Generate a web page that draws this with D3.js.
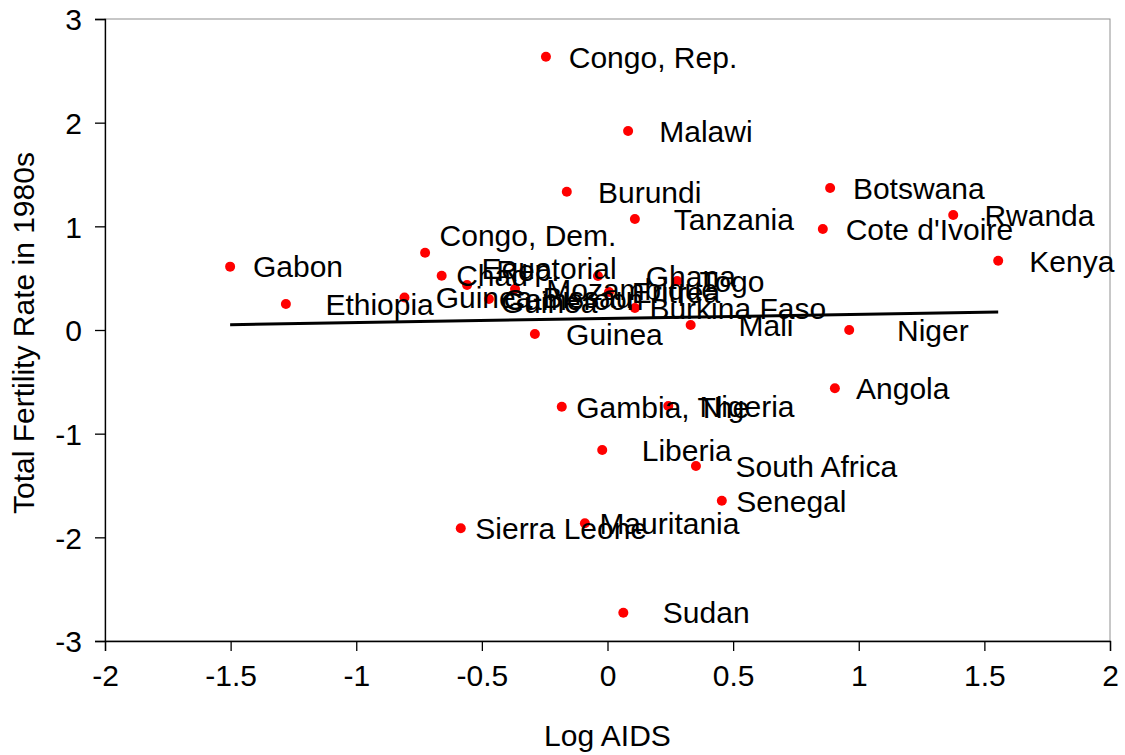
<!DOCTYPE html>
<html>
<head>
<meta charset="utf-8">
<script src="https://cdn.jsdelivr.net/npm/d3@7"></script>
<style>
  html, body { margin: 0; padding: 0; background: #ffffff; }
  svg { display: block; font-family: "Liberation Sans", Arial, sans-serif; }
  text { white-space: pre; }
</style>
</head>
<body>
<svg id="chart" width="1125" height="755"></svg>
<script>
// ---- data ----
const countries = [
  "Congo, Rep.", "Malawi", "Burundi", "Tanzania", "Botswana", "Cote d'Ivoire",
  "Rwanda", "Kenya", "Congo, Dem. Rep.", "Gabon", "Ethiopia", "Chad",
  "Equatorial Guinea", "Guinea-Bissau", "Cameroon", "Mozambique", "Ghana", "Togo",
  "Eritrea", "Burkina Faso", "Mali", "Niger", "Guinea", "Angola",
  "Gambia, The", "Nigeria", "Liberia", "South Africa", "Senegal", "Sierra Leone",
  "Mauritania", "Sudan"
];
const logAids = [
  -0.245, 0.082, -0.162, 0.109, 0.886, 0.857,
  1.376, 1.555, -0.726, -1.502, -1.280, -0.660,
  -0.559, -0.808, -0.472, -0.368, -0.038, 0.277,
  0.006, 0.109, 0.331, 0.962, -0.289, 0.905,
  -0.182, 0.242, -0.021, 0.352, 0.455, -0.584,
  -0.090, 0.063
];
const fertility = [
  2.636, 1.920, 1.334, 1.071, 1.370, 0.974,
  1.109, 0.668, 0.746, 0.611, 0.251, 0.524,
  0.434, 0.313, 0.299, 0.395, 0.521, 0.473,
  0.367, 0.212, 0.048, 0.000, -0.039, -0.562,
  -0.740, -0.733, -1.158, -1.312, -1.647, -1.913,
  -1.865, -2.727
];
// data-label texts as they appear (leading spaces, wrapped lines)
const labelTexts = [
  " Congo, Rep.", "  Malawi", "  Burundi", "   Tanzania", " Botswana", " Cote d'Ivoire",
  "  Rwanda", "  Kenya", "Congo, Dem.\nRep.", " Gabon", "   Ethiopia", "Chad",
  "Equatorial\nGuinea", "  Guinea-Bissau", "Cameroon", "  Mozambique", "    Ghana", " Togo",
  " Eritrea", "Burkina Faso", "    Mali", "    Niger", "  Guinea", " Angola",
  "Gambia, The", "  Nigeria", "   Liberia", "   South Africa", "Senegal", "Sierra Leone",
  "Mauritania", "   Sudan"
];
const xTicks = [-2, -1.5, -1, -0.5, 0, 0.5, 1, 1.5, 2];
const yTicks = [-3, -2, -1, 0, 1, 2, 3];
const xTitle = "Log AIDS";
const yTitle = "Total Fertility Rate in 1980s";

// ---- layout ----
const W = 1125, H = 755;
const plot = { left: 105, right: 1110, top: 19, bottom: 641 };
const fontSize = 30;

const svg = d3.select("#chart");
const x = d3.scaleLinear().domain([-2, 2]).range([plot.left, plot.right]);
const y = d3.scaleLinear().domain([-3, 3]).range([plot.bottom, plot.top]);

// plot-area border (grey)
svg.append("rect")
  .attr("x", plot.left).attr("y", plot.top)
  .attr("width", plot.right - plot.left).attr("height", plot.bottom - plot.top)
  .attr("fill", "none").attr("stroke", "#909090").attr("stroke-width", 1);

// axes
const xAxis = d3.axisBottom(x).tickValues(xTicks).tickSize(10).tickPadding(14)
  .tickFormat(d => String(d));
const yAxis = d3.axisLeft(y).tickValues(yTicks).tickSize(10).tickPadding(13)
  .tickFormat(d => String(d));

const gx = svg.append("g").attr("transform", `translate(0,${plot.bottom})`).call(xAxis);
const gy = svg.append("g").attr("transform", `translate(${plot.left},0)`).call(yAxis);
[gx, gy].forEach(g => {
  g.selectAll("path.domain").attr("stroke", "#000").attr("stroke-width", 1.3);
  g.selectAll(".tick line").attr("stroke", "#000").attr("stroke-width", 1.3);
  g.selectAll(".tick text").attr("fill", "#000")
    .attr("font-size", fontSize).attr("font-family", "Liberation Sans, Arial, sans-serif");
});
gx.selectAll(".tick text").attr("dy", "0.71em");
gy.selectAll(".tick text").attr("dy", "0.36em");

// axis titles
svg.append("text")
  .attr("x", (plot.left + plot.right) / 2).attr("y", 746)
  .attr("text-anchor", "middle").attr("font-size", fontSize).attr("fill", "#000")
  .text(xTitle);
svg.append("text")
  .attr("transform", `translate(34, ${(plot.top + plot.bottom) / 2 + 3}) rotate(-90)`)
  .attr("text-anchor", "middle").attr("font-size", fontSize).attr("fill", "#000")
  .text(yTitle);

// regression trend line computed from the data
const n = logAids.length;
const mx = d3.mean(logAids), my = d3.mean(fertility);
let sxy = 0, sxx = 0;
for (let i = 0; i < n; i++) {
  sxy += (logAids[i] - mx) * (fertility[i] - my);
  sxx += (logAids[i] - mx) ** 2;
}
const slope = sxy / sxx, intercept = my - slope * mx;
const [x0, x1] = d3.extent(logAids);
svg.append("line")
  .attr("x1", x(x0)).attr("y1", y(intercept + slope * x0))
  .attr("x2", x(x1)).attr("y2", y(intercept + slope * x1))
  .attr("stroke", "#000").attr("stroke-width", 3);

// points
const pts = d3.range(n).map(i => ({ x: logAids[i], y: fertility[i], label: labelTexts[i] }));
svg.append("g").selectAll("circle").data(pts).join("circle")
  .attr("cx", d => x(d.x)).attr("cy", d => y(d.y)).attr("r", 5)
  .attr("fill", "#ff0000");

// data labels (right of point, vertically centred, wrapped lines centred)
const labelGap = 14.5, lineH = 34.5;
const lg = svg.append("g").attr("font-size", fontSize).attr("fill", "#000");
pts.forEach(d => {
  const lines = d.label.split("\n");
  const t = lg.append("text").attr("xml:space", "preserve");
  const left = x(d.x) + labelGap;
  const cy0 = y(d.y) - (lines.length - 1) * lineH / 2;
  const spans = lines.map((ln, k) => t.append("tspan")
    .attr("x", left).attr("y", cy0 + k * lineH).attr("dy", "0.36em").text(ln));
  if (lines.length > 1) {
    const widths = spans.map(s => s.node().getComputedTextLength());
    const wmax = d3.max(widths);
    spans.forEach((s, k) => s.attr("x", left + (wmax - widths[k]) / 2));
  }
});
</script>
</body>
</html>
